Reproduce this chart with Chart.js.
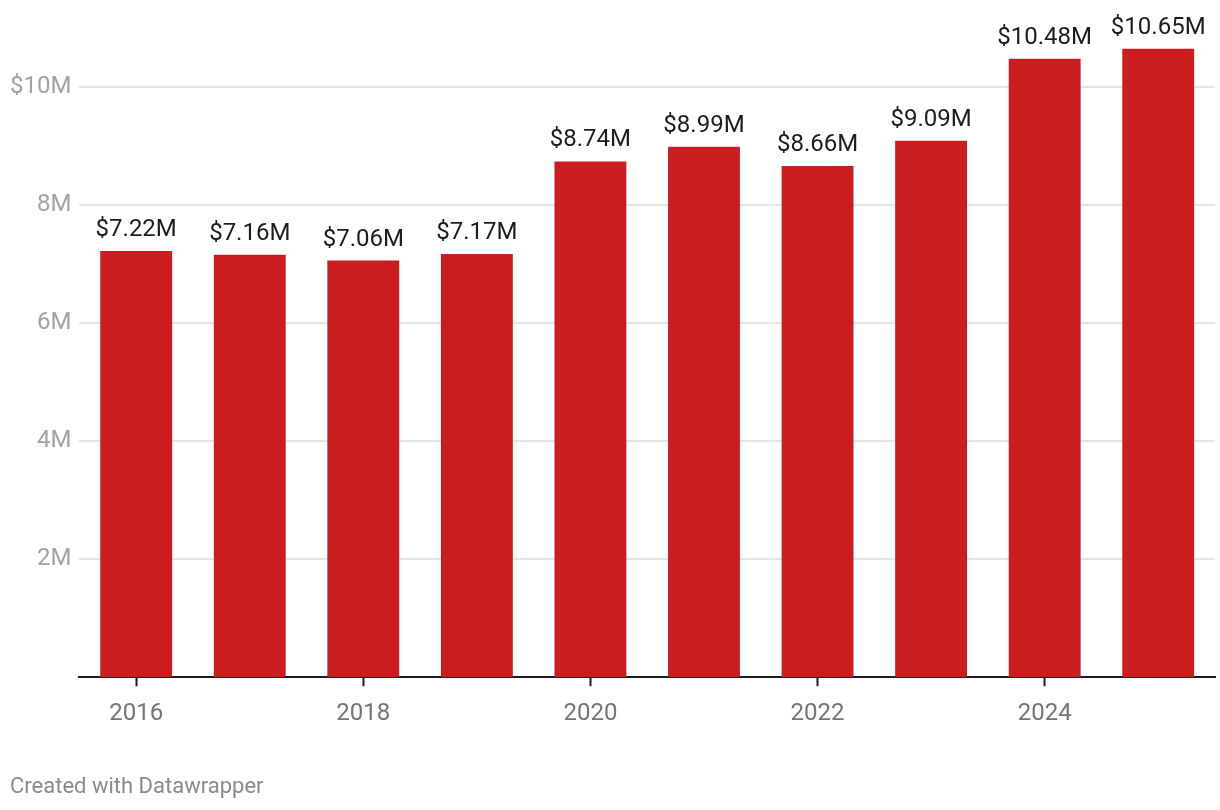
<!DOCTYPE html>
<html>
<head>
    <title>Annual values</title>
    <script src="https://cdn.jsdelivr.net/npm/chart.js"></script>
    <style>
        body {
            margin: 0;
            background-color: #ffffff;
            font-family: Roboto, Arial, sans-serif;
        }
        #wrap {
            position: relative;
            width: 1220px;
            height: 810px;
        }
        #footer {
            position: absolute;
            left: 10px;
            top: 773px;
            font-size: 22px;
            color: #8a8a8a;
        }
    </style>
</head>
<body>

    <div id="wrap">
        <canvas id="barChart" width="1220" height="810"></canvas>
        <div id="footer">Created with Datawrapper</div>
    </div>

    <script>
        const years = ['2016', '2017', '2018', '2019', '2020', '2021', '2022', '2023', '2024', '2025'];
        const values = [7.22, 7.16, 7.06, 7.17, 8.74, 8.99, 8.66, 9.09, 10.48, 10.65]; // $ millions
        const yTicks = [2, 4, 6, 8, 10];

        // draws the "$7.22M" labels above the bars
        const barLabels = {
            id: 'barLabels',
            afterDatasetsDraw(chart) {
                const ctx = chart.ctx;
                const meta = chart.getDatasetMeta(0);
                ctx.save();
                ctx.font = '24px Roboto';
                ctx.fillStyle = '#1d1d1d';
                ctx.textAlign = 'center';
                ctx.textBaseline = 'alphabetic';
                meta.data.forEach((bar, i) => {
                    ctx.fillText('$' + values[i].toFixed(2) + 'M', bar.x, bar.y - 15);
                });
                ctx.restore();
            }
        };

        const ctx = document.getElementById('barChart').getContext('2d');
        new Chart(ctx, {
            type: 'bar',
            data: {
                labels: years,
                datasets: [{
                    data: values,
                    backgroundColor: '#c91d1f',
                    barPercentage: 0.633,
                    categoryPercentage: 1.0
                }]
            },
            options: {
                responsive: false,
                animation: false,
                layout: {
                    padding: { left: 2, right: 5, top: 28, bottom: 69 }
                },
                plugins: {
                    legend: { display: false },
                    tooltip: { enabled: false }
                },
                scales: {
                    x: {
                        offset: true,
                        border: { color: '#1d1d1d', width: 2 },
                        grid: {
                            offset: false,
                            drawOnChartArea: false,
                            drawTicks: true,
                            tickLength: 9,
                            tickWidth: 2,
                            color: (c) => (c.index % 2 === 0 ? '#1d1d1d' : 'rgba(0,0,0,0)')
                        },
                        ticks: {
                            autoSkip: false,
                            maxRotation: 0,
                            padding: 13,
                            color: '#757575',
                            font: { family: 'Roboto', size: 24 },
                            callback: (v, i) => (i % 2 === 0 ? years[i] : '')
                        }
                    },
                    y: {
                        min: 0,
                        max: 11,
                        border: { display: false },
                        afterBuildTicks: (scale) => {
                            scale.ticks = yTicks.map(v => ({ value: v }));
                        },
                        grid: {
                            drawTicks: false,
                            color: '#e5e5e5',
                            lineWidth: 2
                        },
                        ticks: {
                            padding: 8,
                            color: '#a3a3a3',
                            font: { family: 'Roboto', size: 24 },
                            callback: (v) => (v === 10 ? '$10M' : v + 'M')
                        }
                    }
                }
            },
            plugins: [barLabels]
        });
    </script>
</body>
</html>
